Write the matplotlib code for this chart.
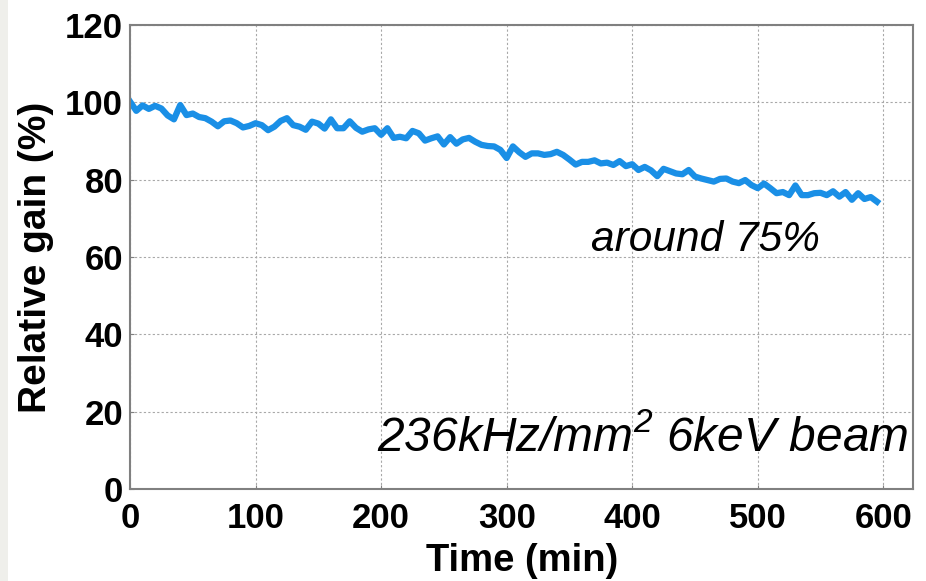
# -*- coding: utf-8 -*-
"""
Relative gain vs time plot
"""

import numpy as np
import matplotlib.pyplot as plt
from matplotlib.patches import Rectangle

# data (every 5 min)
time_min = np.arange(0, 600, 5)
gain = [100.2, 97.8, 99.2, 98.3, 99.1, 98.4, 96.6, 95.6, 99.3, 96.7,
        97.1, 96.2, 95.9, 95.0, 93.8, 95.1, 95.3, 94.6, 93.5, 93.9,
        94.6, 94.1, 92.8, 93.7, 95.2, 95.9, 94.1, 93.7, 92.9, 95.0,
        94.5, 93.2, 95.6, 93.3, 93.3, 95.1, 93.4, 92.4, 93.0, 93.3,
        91.6, 93.3, 90.8, 91.1, 90.7, 92.6, 92.0, 90.1, 90.7, 91.2,
        89.1, 91.0, 89.3, 90.4, 90.8, 89.8, 89.0, 88.7, 88.6, 87.7,
        85.6, 88.6, 87.1, 85.9, 86.8, 86.8, 86.4, 86.6, 87.2, 86.4,
        85.2, 83.9, 84.6, 84.6, 85.0, 84.2, 84.4, 83.8, 84.8, 83.5,
        84.0, 82.5, 83.3, 82.4, 80.9, 82.8, 82.2, 81.6, 81.4, 82.5,
        80.8, 80.3, 79.9, 79.5, 80.2, 80.3, 79.5, 79.1, 79.9, 78.6,
        77.8, 79.0, 77.8, 76.5, 76.8, 76.0, 78.5, 76.0, 76.0, 76.5,
        76.6, 76.0, 77.0, 75.6, 76.8, 74.8, 76.5, 75.0, 75.5, 74.3]
xticks = [0, 100, 200, 300, 400, 500, 600]
yticks = [0, 20, 40, 60, 80, 100, 120]

plt.rcParams['font.family'] = ['Liberation Sans', 'DejaVu Sans']
plt.rcParams['mathtext.fontset'] = 'custom'
plt.rcParams['mathtext.rm'] = 'Liberation Sans:italic'
plt.rcParams['mathtext.it'] = 'Liberation Sans:italic'

fig = plt.figure(figsize=(9.26, 5.81), dpi=100)
fig.patches.append(Rectangle((0, 0), 8 / 926, 1, transform=fig.transFigure,
                             facecolor='#efefeb', edgecolor='none', zorder=-1))
ax = fig.add_axes([0.1404, 0.1583, 0.846, 0.7987])

ax.plot(time_min, gain, color='#1a8fe6', linewidth=4.5, solid_joinstyle='round')

ax.set_xlim(0, 624)
ax.set_ylim(0, 120)
ax.set_xticks(xticks)
ax.set_yticks(yticks)
ax.tick_params(direction='in', length=3, color='#808080', labelsize=25)
ax.tick_params(axis='x', pad=9)
ax.tick_params(axis='y', pad=5)
for lab in ax.get_xticklabels() + ax.get_yticklabels():
    lab.set_fontweight('bold')
ax.grid(True, linestyle=(0, (2, 2)), color='#a8a8a8', linewidth=0.8)
for sp in ax.spines.values():
    sp.set_color('#808080')
    sp.set_linewidth(1.5)

ax.set_xlabel('Time (min)', fontsize=27.5, fontweight='bold', labelpad=6)
ax.set_ylabel('Relative gain (%)', fontsize=28, fontweight='bold', labelpad=8)

ax.text(458, 64.4, 'around 75%', fontsize=30.5, style='italic',
        ha='center', va='center')
ax.text(408, 13.2, '236kHz/mm$^{2}$ 6keV beam', fontsize=34.5, style='italic',
        ha='center', va='center')

plt.savefig('out.png', dpi=100)
